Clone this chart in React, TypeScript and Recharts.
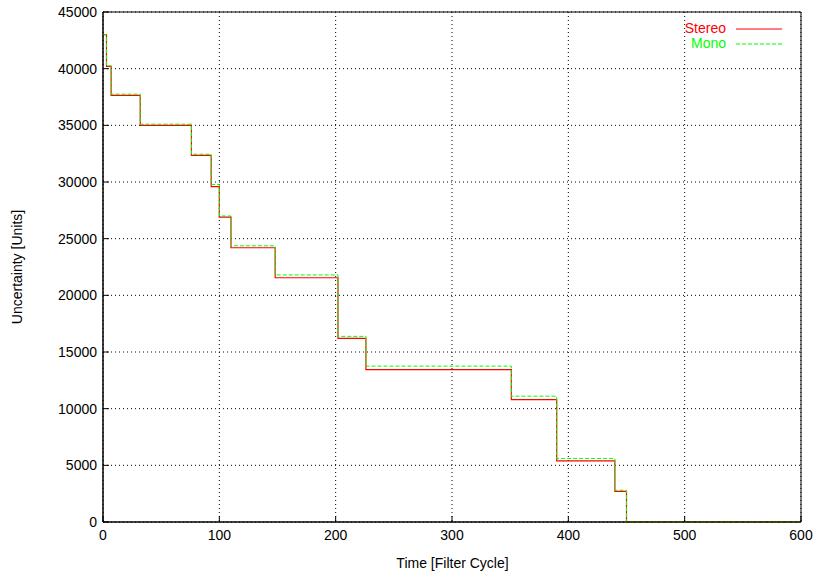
import { CartesianGrid, Line, LineChart, ReferenceArea, XAxis, YAxis } from "recharts";

// step change times (filter cycles) and uncertainty levels after each change
const cycles = [0, 3, 7, 32, 76, 93, 100, 110, 148, 202, 226, 351, 390, 440, 450, 600];
const stereo = [43000, 40200, 37650, 35000, 32350, 29600, 26900, 24200, 21550, 16200, 13450, 10800, 5400, 2700, 0, 0];
const mono = [43000, 40250, 37750, 35100, 32450, 29780, 27000, 24370, 21800, 16380, 13750, 11100, 5600, 2800, 0, 0];

const xTicks = [0, 100, 200, 300, 400, 500, 600];
const yTicks = [0, 5000, 10000, 15000, 20000, 25000, 30000, 35000, 40000, 45000];

const chartData = cycles.map((cycle, i) => ({
  cycle,
  stereo: stereo[i],
  mono: mono[i],
}));

const fontFamily = "'Liberation Sans', Arial, sans-serif";
const tickStyle = { fill: "#000", fontSize: 14, fontFamily };

export default function App() {
  return (
    <div style={{ position: "absolute", left: 0, top: 0, width: 816, height: 574, background: "#fff" }}>
      <LineChart
        width={816}
        height={574}
        data={chartData}
        margin={{ top: 12, right: 15, left: 0, bottom: 0 }}
      >
        <CartesianGrid stroke="#000" strokeDasharray="1 3" />
        <XAxis
          dataKey="cycle"
          type="number"
          domain={[0, 600]}
          ticks={xTicks}
          height={52}
          tick={tickStyle}
          tickSize={-6}
          tickMargin={14}
          tickLine={{ stroke: "#000" }}
          axisLine={{ stroke: "#000" }}
          allowDataOverflow
        />
        <XAxis
          xAxisId="top"
          orientation="top"
          dataKey="cycle"
          type="number"
          domain={[0, 600]}
          ticks={xTicks}
          height={0}
          tickSize={-6}
          tickFormatter={() => ""}
          tickLine={{ stroke: "#000" }}
          axisLine={{ stroke: "#000" }}
        />
        <YAxis
          type="number"
          domain={[0, 45000]}
          ticks={yTicks}
          width={103}
          tick={tickStyle}
          tickSize={-6}
          tickMargin={12}
          tickLine={{ stroke: "#000" }}
          axisLine={{ stroke: "#000" }}
          label={{
            value: "Uncertainty [Units]",
            angle: -90,
            position: "insideLeft",
            offset: 17,
            style: { fill: "#000", fontSize: 14, fontFamily, textAnchor: "middle" },
          }}
        />
        <YAxis
          yAxisId="right"
          orientation="right"
          type="number"
          domain={[0, 45000]}
          ticks={yTicks}
          width={0}
          tickSize={-6}
          tickFormatter={() => ""}
          tickLine={{ stroke: "#000" }}
          axisLine={{ stroke: "#000" }}
        />
        <ReferenceArea x1={0} x2={600} y1={0} y2={45000} stroke="#000" fill="none" ifOverflow="visible" />
        <Line
          type="stepAfter"
          dataKey="stereo"
          stroke="#ff0000"
          strokeWidth={1.2}
          dot={false}
          isAnimationActive={false}
        />
        <Line
          type="stepAfter"
          dataKey="mono"
          stroke="#00ff00"
          strokeWidth={1}
          strokeDasharray="4 2"
          dot={false}
          isAnimationActive={false}
        />
      </LineChart>

      <div
        style={{
          position: "absolute",
          left: 0,
          top: 555,
          width: 905,
          textAlign: "center",
          fontFamily,
          fontSize: 14,
          color: "#000",
        }}
      >
        Time [Filter Cycle]
      </div>

      <div style={{ position: "absolute", left: 620, top: 21, fontFamily, fontSize: 14, lineHeight: "15px" }}>
        <div style={{ display: "flex", alignItems: "center", justifyContent: "flex-end" }}>
          <span style={{ color: "#ff0000", width: 106, textAlign: "right" }}>Stereo</span>
          <svg width={56} height={15}>
            <line x1={10} x2={56} y1={8} y2={8} stroke="#ff0000" strokeWidth={1} />
          </svg>
        </div>
        <div style={{ display: "flex", alignItems: "center", justifyContent: "flex-end" }}>
          <span style={{ color: "#00ff00", width: 106, textAlign: "right" }}>Mono</span>
          <svg width={56} height={15}>
            <line x1={10} x2={56} y1={8} y2={8} stroke="#00ff00" strokeWidth={1} strokeDasharray="4 2" />
          </svg>
        </div>
      </div>
    </div>
  );
}
